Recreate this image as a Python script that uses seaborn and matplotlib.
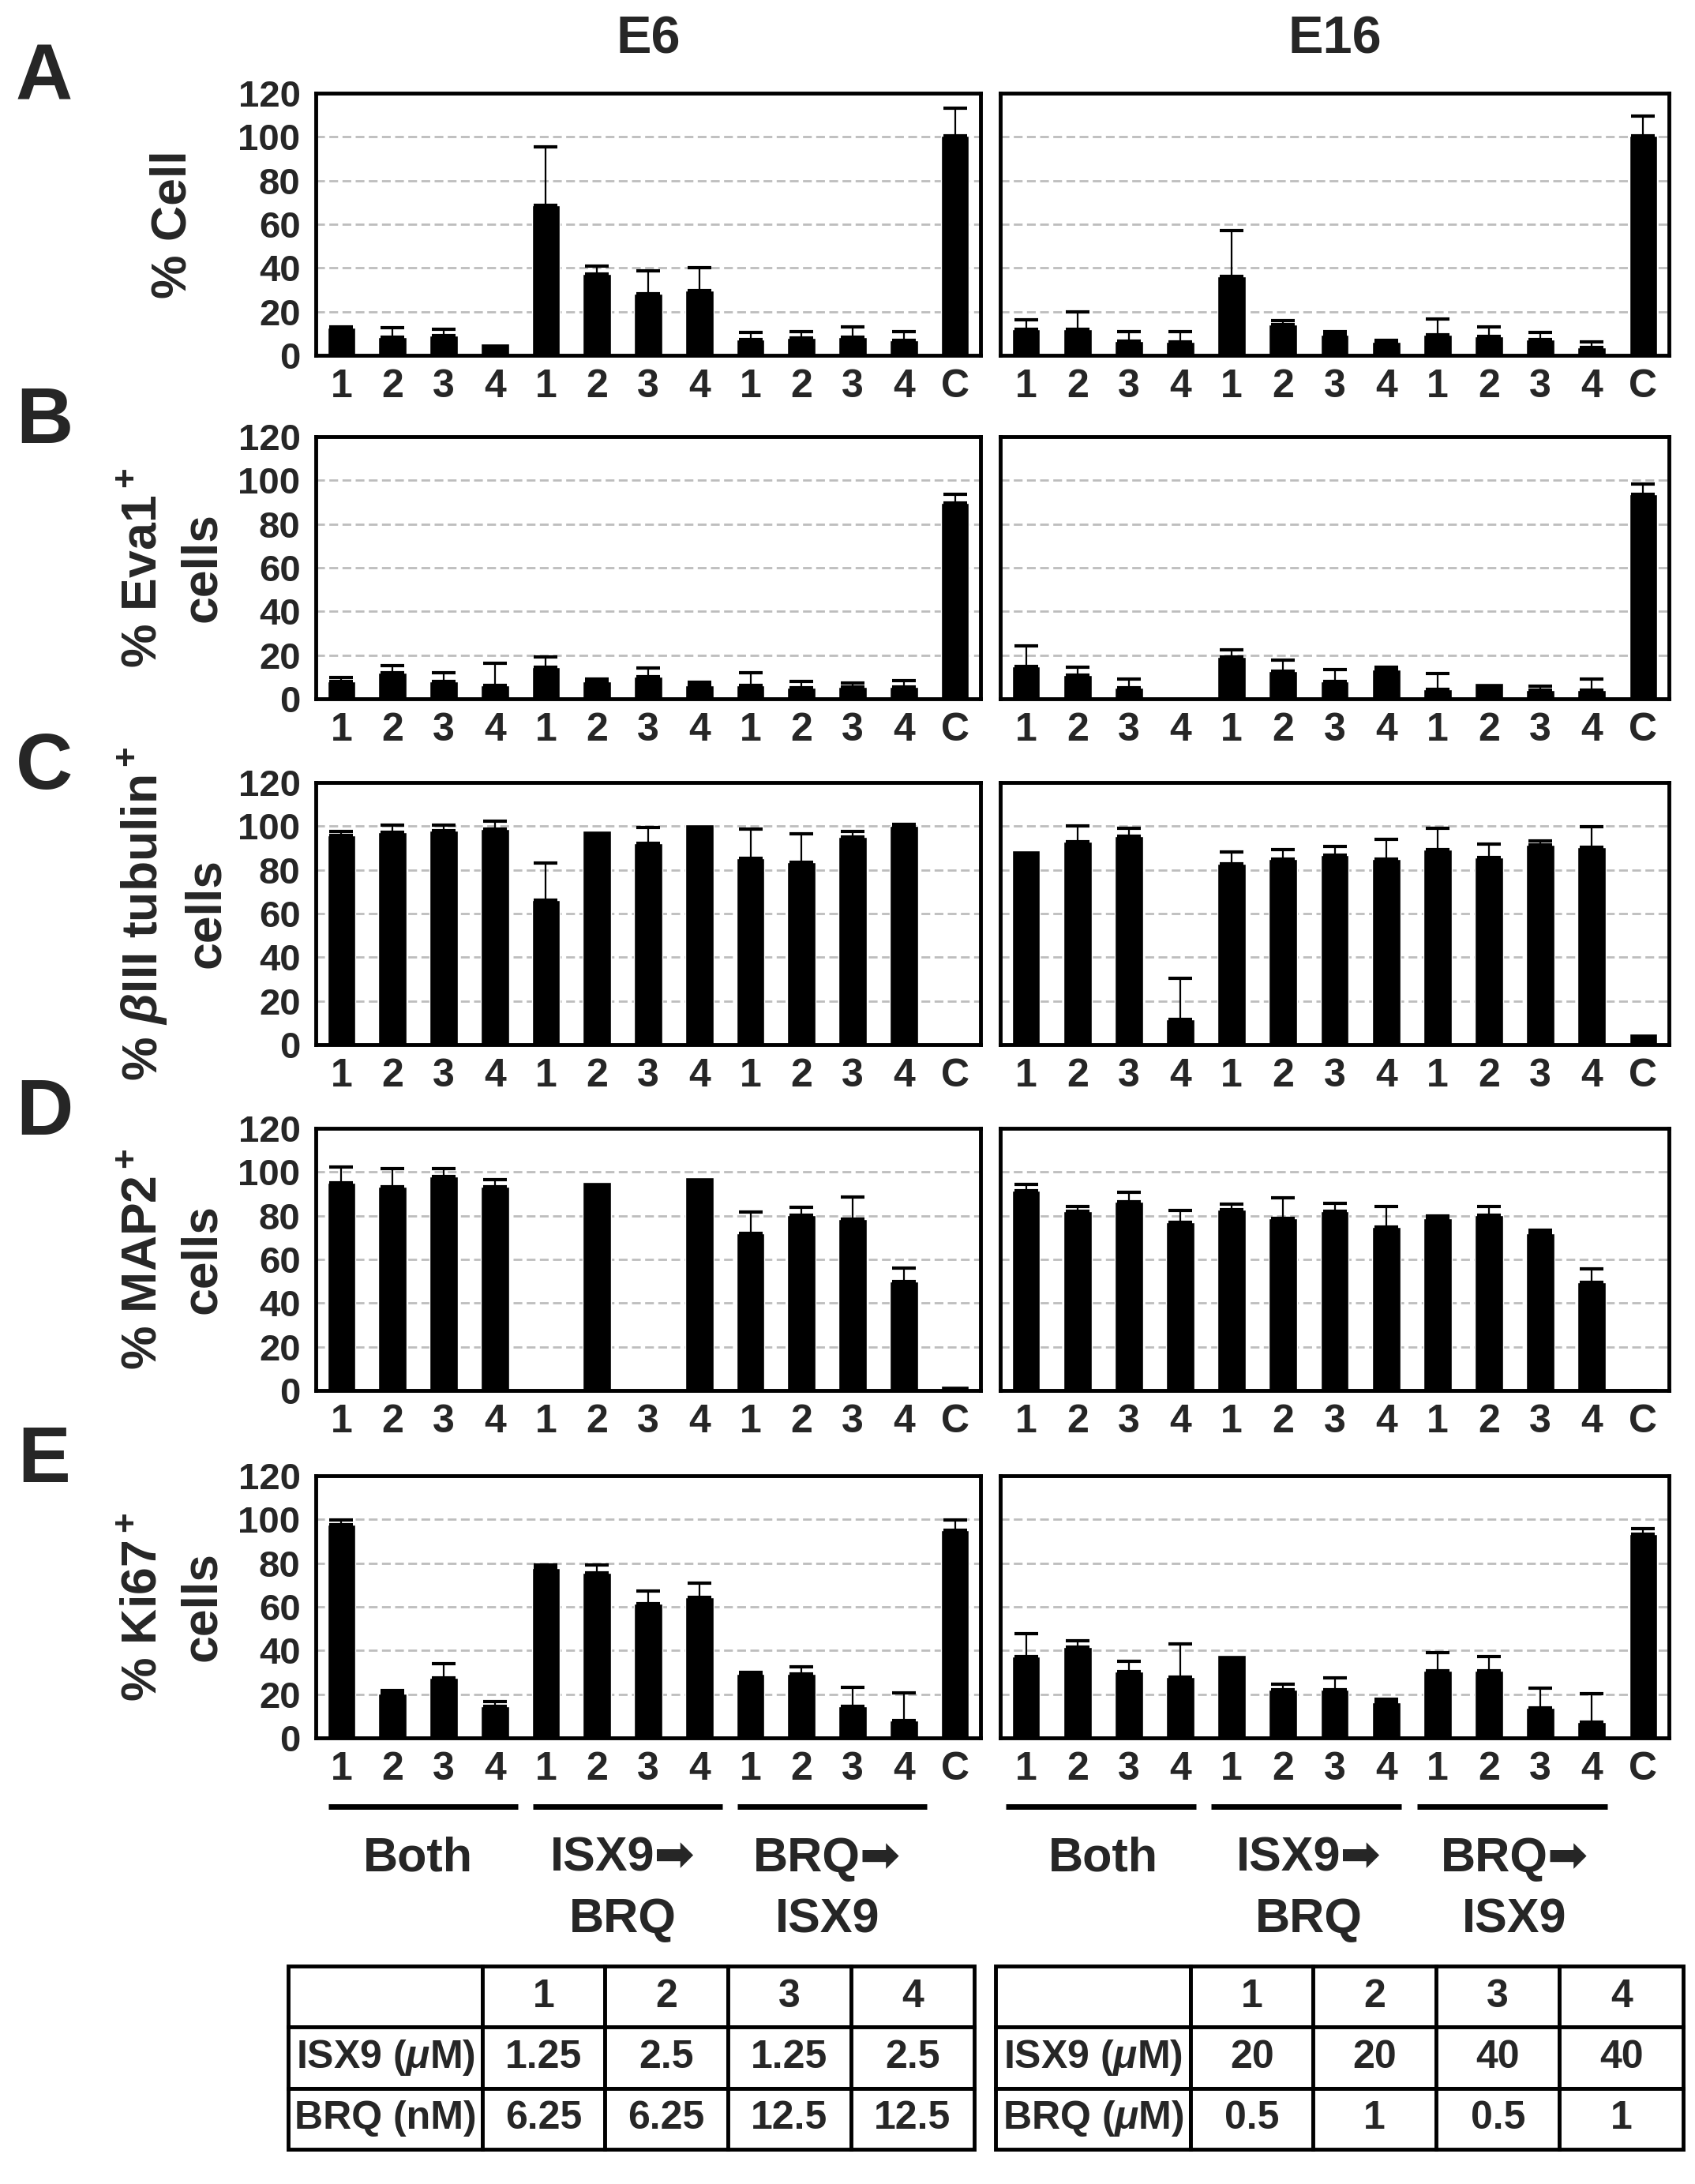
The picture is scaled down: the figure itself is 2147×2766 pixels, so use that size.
#!/usr/bin/env python3
"""
Bar chart panels A-E (E6 / E16) with dose tables underneath.
"""
import numpy as np
import pandas as pd
import matplotlib
matplotlib.use('Agg')
import matplotlib.pyplot as plt
import matplotlib.transforms as mtransforms
import seaborn as sns

sns.set_style('white')
plt.rcParams['font.family'] = ['Liberation Sans', 'DejaVu Sans']
plt.rcParams['font.weight'] = 'bold'
plt.rcParams['mathtext.fontset'] = 'custom'
plt.rcParams['mathtext.rm'] = 'Liberation Sans:bold'
plt.rcParams['mathtext.it'] = 'Liberation Sans:bold:italic'
plt.rcParams['mathtext.bf'] = 'Liberation Sans:bold'

# ---- data ----
cond_ids = ['Both-1', 'Both-2', 'Both-3', 'Both-4',
            'IB-1', 'IB-2', 'IB-3', 'IB-4',
            'BI-1', 'BI-2', 'BI-3', 'BI-4', 'C']
tick_labels = ['1', '2', '3', '4', '1', '2', '3', '4', '1', '2', '3', '4', 'C']

panel_letters = ['A', 'B', 'C', 'D', 'E']
y_labels = ['% Cell', '% Eva1$^+$\ncells', '% $\\beta$III tubulin$^+$\ncells',
            '% MAP2$^+$\ncells', '% Ki67$^+$\ncells']
column_titles = ['E6', 'E16']

A_E6_mean = [12.5, 8.3, 9.1, 5.5, 68.5, 37.1, 28.1, 29.7, 7.3, 7.9, 8.3, 6.7, 100.6]
A_E6_err = [0.5, 4.4, 3.0, 0, 26.8, 3.9, 10.4, 10.3, 3.1, 2.8, 4.7, 4.0, 12.7]
A_E16_mean = [11.8, 11.8, 6.6, 6.0, 36.0, 14.2, 9.4, 6.2, 9.4, 8.8, 7.2, 3.6, 100.5]
A_E16_err = [4.6, 8.2, 4.2, 5.0, 21.2, 1.6, 1.6, 0.6, 7.3, 4.2, 3.2, 2.4, 9.1]

B_E6_mean = [7.9, 12.1, 7.9, 6.1, 14.3, 7.9, 10.2, 6.1, 6.1, 4.9, 5.5, 5.5, 89.5]
B_E6_err = [2.0, 3.1, 3.9, 10.0, 4.8, 1.2, 3.8, 1.5, 5.7, 2.9, 1.8, 2.9, 4.0]
B_E16_mean = [15.0, 10.9, 4.9, 0, 19.1, 12.7, 7.8, 13.3, 4.3, 7.3, 3.9, 3.9, 93.5]
B_E16_err = [9.3, 3.6, 4.1, 0, 3.2, 5.0, 5.6, 1.2, 7.2, 0, 1.8, 5.2, 4.7]

C_E6_mean = [95.7, 97.3, 97.9, 98.7, 66.3, 97.9, 92.0, 100.7, 85.4, 83.5, 95.1, 100.0, 0]
C_E6_err = [2.0, 3.1, 2.5, 3.7, 16.7, 0, 7.5, 0, 13.1, 13.1, 2.6, 1.0, 0]
C_E16_mean = [89.0, 92.8, 95.5, 11.5, 82.7, 85.0, 86.9, 85.0, 89.2, 85.7, 91.3, 90.4, 4.9]
C_E16_err = [0, 7.2, 3.7, 19.0, 5.6, 4.2, 3.8, 9.1, 10.0, 6.2, 1.8, 9.4, 0]

D_E6_mean = [95.1, 93.3, 98.0, 93.3, 0, 95.6, 0, 97.5, 71.8, 80.1, 78.4, 49.9, 2.0]
D_E6_err = [7.2, 8.2, 3.5, 3.3, 0, 0, 0, 0, 10.0, 3.9, 10.3, 6.2, 0]
D_E16_mean = [91.6, 82.1, 86.3, 77.0, 82.7, 78.7, 82.1, 75.0, 78.8, 80.4, 72.1, 49.6, 1.2]
D_E16_err = [2.7, 2.2, 4.3, 5.3, 2.7, 9.5, 3.6, 9.1, 1.2, 3.7, 1.4, 6.0, 0]

E_E6_mean = [97.6, 20.4, 27.3, 14.6, 77.7, 75.6, 61.6, 64.5, 29.1, 29.1, 14.3, 7.8, 95.1]
E_E6_err = [2.3, 1.4, 6.5, 1.9, 1.4, 3.5, 5.7, 6.5, 1.0, 3.5, 8.9, 12.8, 4.5]
E_E16_mean = [37.3, 41.6, 30.2, 28.0, 38.1, 22.0, 22.0, 16.2, 30.8, 30.8, 13.8, 7.3, 93.3]
E_E16_err = [10.3, 3.0, 4.9, 15.0, 0, 2.4, 5.5, 1.6, 8.3, 6.5, 9.1, 12.8, 2.4]

group_names = [['Both'], ['ISX9\u27a1', 'BRQ'], ['BRQ\u27a1', 'ISX9']]

table_header = ['', '1', '2', '3', '4']
E6_isx9 = ['1.25', '2.5', '1.25', '2.5']
E6_brq = ['6.25', '6.25', '12.5', '12.5']
E16_isx9 = ['20', '20', '40', '40']
E16_brq = ['0.5', '1', '0.5', '1']
E6_row_names = ['ISX9 ($\\mu$M)', 'BRQ (nM)']
E16_row_names = ['ISX9 ($\\mu$M)', 'BRQ ($\\mu$M)']

means = {'E6': [A_E6_mean, B_E6_mean, C_E6_mean, D_E6_mean, E_E6_mean],
         'E16': [A_E16_mean, B_E16_mean, C_E16_mean, D_E16_mean, E_E16_mean]}
errs = {'E6': [A_E6_err, B_E6_err, C_E6_err, D_E6_err, E_E6_err],
        'E16': [A_E16_err, B_E16_err, C_E16_err, D_E16_err, E_E16_err]}

# ---- layout (figure pixels 2147 x 2766) ----
W, H = 2147, 2766
col_x = {'E6': (400, 842), 'E16': (1267, 847)}
panel_tops = [118, 553, 991, 1429, 1869]
panel_h = 332
table_x = {'E6': (365, 869), 'E16': (1261, 871)}
table_y = (2490, 2722)
table_colw = [246, 155, 155, 156, 156]
group_line_offset = {'E6': -0.25, 'E16': -0.4}

fig = plt.figure(figsize=(W / 100, H / 100), dpi=100)


def draw_panel(ax, vals, err, show_y):
    df = pd.DataFrame({'cond': cond_ids, 'pct': vals})
    for y in range(20, 101, 20):
        ax.axhline(y, color='#bdbdbd', lw=2.0, ls=(0, (4, 2)), zorder=0)
    sns.barplot(data=df, x='cond', y='pct', order=cond_ids, color='black',
                saturation=1, width=0.55, errorbar=None, ax=ax, zorder=2)
    err = np.asarray(err, dtype=float)
    vals = np.asarray(vals, dtype=float)
    keep = err > 0
    xs = np.arange(len(cond_ids))
    ax.errorbar(xs[keep], vals[keep], yerr=[np.zeros(keep.sum()), err[keep]],
                fmt='none', ecolor='black', elinewidth=1.6, capsize=11,
                capthick=3, zorder=3)
    ax.set_xlim(-0.5, 12.5)
    ax.set_ylim(0, 120)
    ax.set_yticks(range(0, 121, 20))
    ax.set_xticks(range(len(cond_ids)))
    ax.set_xticklabels(tick_labels, fontsize=36, fontweight='bold')
    ax.tick_params(axis='x', length=0, pad=12)
    ax.tick_params(axis='y', length=0, pad=14, labelsize=34, labelleft=show_y)
    ax.set_xlabel('')
    ax.set_ylabel('')
    for sp in ax.spines.values():
        sp.set_visible(True)
        sp.set_color('black')
        sp.set_linewidth(3.5)


for col in column_titles:
    x0, w = col_x[col]
    for i, letter in enumerate(panel_letters):
        top = panel_tops[i]
        ax = fig.add_axes([x0 / W, 1 - (top + panel_h) / H, w / W, panel_h / H])
        draw_panel(ax, means[col][i], errs[col][i], col == 'E6')
        if col == 'E6':
            ax.text(-0.215, 0.5, y_labels[i], transform=ax.transAxes,
                    rotation=90, ha='center', va='center', fontsize=45,
                    multialignment='center', linespacing=1.35)
            fig.text(56 / W, 1 - (top - 18) / H, letter, fontsize=72,
                     fontweight='bold', ha='center', va='center')
        if i == 0:
            ax.text(0.5, 1 + 68 / panel_h, col, transform=ax.transAxes,
                    ha='center', va='center', fontsize=48, fontweight='bold')
        if i == len(panel_letters) - 1:
            trans = mtransforms.blended_transform_factory(ax.transData, ax.transAxes)
            off = group_line_offset[col]
            for g, names in enumerate(group_names):
                ax.plot([4 * g + off, 4 * g + off + 3.7], [-0.263, -0.263],
                        transform=trans, color='black', lw=5, clip_on=False,
                        solid_capstyle='butt')
                for k, name in enumerate(names):
                    ax.text(4 * g + 1.5, -0.462 - 0.233 * k, name,
                            transform=trans, ha='center', va='center',
                            fontsize=44, fontweight='bold')

    # dose table
    tx0, tw = table_x[col]
    tax = fig.add_axes([tx0 / W, 1 - table_y[1] / H, tw / W,
                        (table_y[1] - table_y[0]) / H])
    tax.axis('off')
    if col == 'E6':
        rows = [table_header, [E6_row_names[0]] + E6_isx9, [E6_row_names[1]] + E6_brq]
    else:
        rows = [table_header, [E16_row_names[0]] + E16_isx9, [E16_row_names[1]] + E16_brq]
    colw = np.array(table_colw) / sum(table_colw)
    tbl = tax.table(cellText=rows, colWidths=list(colw), bbox=[0, 0, 1, 1],
                    cellLoc='center')
    tbl.auto_set_font_size(False)
    for (r, c), cell in tbl.get_celld().items():
        cell.set_linewidth(3.5)
        cell.set_edgecolor('black')
        cell.get_text().set_fontsize(36)
        cell.get_text().set_fontweight('bold')

fig.savefig('out.png', dpi=100)
